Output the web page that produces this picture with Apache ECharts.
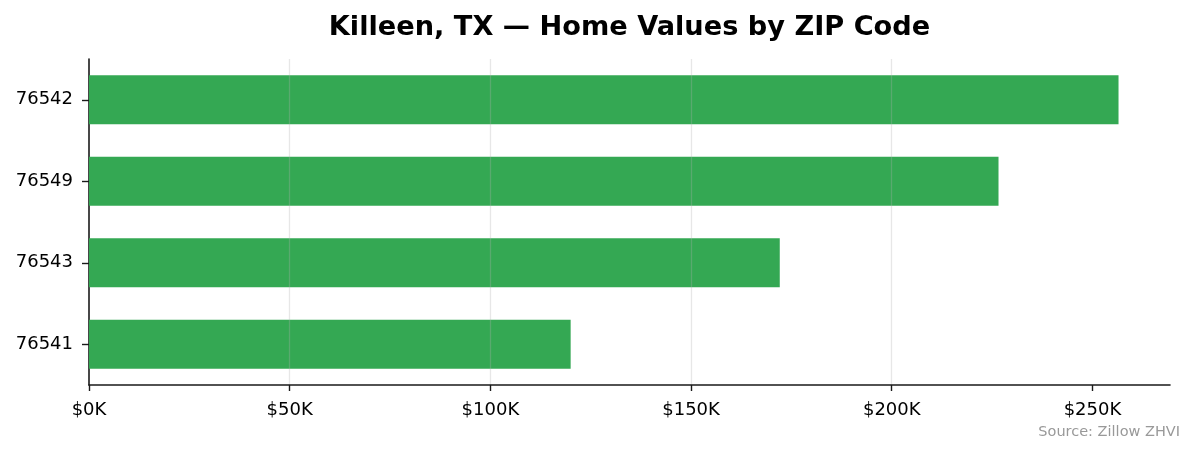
<!DOCTYPE html>
<html>
<head>
<meta charset="utf-8">
<script src="https://cdn.jsdelivr.net/npm/echarts@6/dist/echarts.min.js"></script>
<style>
html,body{margin:0;padding:0;background:#fff;}
#chart{width:1195px;height:455px;}
</style>
</head>
<body>
<div id="chart"></div>
<script>
const titleText = 'Killeen, TX — Home Values by ZIP Code';
const sourceText = 'Source: Zillow ZHVI';
const zipCodes = ['76541', '76543', '76549', '76542'];
const homeValues = [120000, 172100, 226600, 256500];
const xTickValues = [0, 50000, 100000, 150000, 200000, 250000];
const xMax = 269325;

const chart = echarts.init(document.getElementById('chart'), null, {renderer: 'canvas'});
const font = 'DejaVu Sans';
chart.setOption({
  animation: false,
  backgroundColor: '#ffffff',
  grid: {left: 89, right: 25, top: 59, bottom: 70, containLabel: false},
  graphic: [
    {type: 'text', x: 629.5, y: 27.5, z: 10,
     style: {text: titleText, font: 'bold 27.2px "DejaVu Sans"', fill: '#000', align: 'center', verticalAlign: 'middle'}},
    {type: 'text', x: 1180, y: 432, z: 10,
     style: {text: sourceText, font: '14.5px "DejaVu Sans"', fill: '#999999', align: 'right', verticalAlign: 'middle'}}
  ],
  xAxis: {
    type: 'value', min: 0, max: xMax, interval: 50000, z: 3,
    axisLine: {show: true, lineStyle: {color: '#1a1a1a', width: 1.6}},
    axisTick: {show: true, length: 6, lineStyle: {color: '#1a1a1a', width: 1.4}, customValues: xTickValues},
    axisLabel: {
      show: true, margin: 16, fontFamily: font, fontSize: 18, color: '#000',
      customValues: xTickValues,
      formatter: v => (v % 50000 === 0 ? '$' + (v / 1000) + 'K' : '')
    },
    splitLine: {show: true, showMinLine: false, showMaxLine: false, lineStyle: {color: 'rgba(176,176,176,0.3)', width: 1.3}}
  },
  yAxis: {
    type: 'category', data: zipCodes,
    axisLine: {show: true, lineStyle: {color: '#1a1a1a', width: 1.6}},
    axisTick: {show: true, alignWithLabel: true, length: 7, lineStyle: {color: '#1a1a1a', width: 1.4}},
    axisLabel: {margin: 16, fontFamily: font, fontSize: 18, color: '#000'},
    splitLine: {show: false}
  },
  series: [{
    type: 'bar', data: homeValues, barWidth: '60%',
    itemStyle: {color: '#34A853'}, z: 2
  }]
});
</script>
</body>
</html>
